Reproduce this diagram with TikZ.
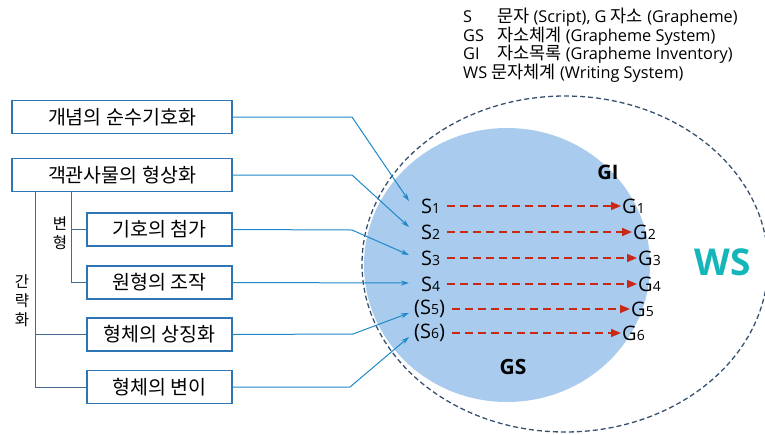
\documentclass[tikz,border=0pt]{standalone}
\usepackage{fontspec}
\setmainfont{Open Sans}
\newfontfamily\kr{Noto Sans CJK KR}
\usetikzlibrary{arrows.meta}
\definecolor{boxblue}{RGB}{46,117,182}
\definecolor{connblue}{RGB}{30,136,200}
\definecolor{brkblue}{RGB}{70,105,145}
\definecolor{fillblue}{RGB}{168,203,238}
\definecolor{dashslate}{RGB}{55,80,110}
\definecolor{arrred}{RGB}{200,40,20}
\definecolor{teal}{RGB}{20,182,186}
\tikzset{
  box/.style={draw=boxblue, line width=1.6pt, fill=white, minimum height=33pt, inner sep=0pt, font=\kr\fontsize{19.5}{21}\selectfont},
  wide/.style={box, minimum width=220pt},
  narrow/.style={box, minimum width=145pt},
  conn/.style={draw=connblue, line width=1pt, -{Stealth[length=8pt,width=5pt]}},
  brk/.style={draw=brkblue, line width=1pt},
  slab/.style={anchor=west, inner sep=0pt, font=\fontsize{20}{22}\selectfont},
  glab/.style={anchor=west, inner sep=0pt, font=\fontsize{20}{22}\selectfont},
  redarr/.style={draw=arrred, line width=1.6pt, dash pattern=on 8pt off 5pt, -{Triangle[length=10pt,width=8pt]}},
  legend/.style={anchor=west, inner sep=0pt, font=\fontsize{16.3}{17}\selectfont},
  vlab/.style={inner sep=0pt, align=center, font=\kr\fontsize{15.5}{19}\selectfont}
}
\newcommand{\sub}[1]{{\fontsize{14}{14}\selectfont #1}}
\newcommand{\krl}[1]{{\kr\fontsize{17.5}{17}\selectfont #1}}
\begin{document}
\begin{tikzpicture}[x=1pt,y=-1pt]
\useasboundingbox (0,0) rectangle (765,434);
% ellipses
\fill[fillblue] (507,265) ellipse [x radius=143pt, y radius=137pt];
\draw[dashslate, line width=1.3pt, dash pattern=on 5pt off 3pt] (565,264) ellipse [x radius=203pt, y radius=168pt];
% legend
\node[legend] (l1) at (463,17) {\makebox[34pt][l]{S}\krl{문자} (Script), G \krl{자소} (Grapheme)};
\node[legend] (l2) at (463,36) {\makebox[34pt][l]{GS}\krl{자소체계} (Grapheme System)};
\node[legend] (l3) at (463,54) {\makebox[34pt][l]{GI}\krl{자소목록} (Grapheme Inventory)};
\node[legend] (l4) at (463,73) {WS \krl{문자체계} (Writing System)};
% boxes
\node[wide] (b1) at (122,117) {개념의 순수기호화};
\node[wide] (b2) at (122,175) {객관사물의 형상화};
\node[narrow] (b3) at (159.5,229.5) {기호의 첨가};
\node[narrow] (b4) at (159.5,282.5) {원형의 조작};
\node[narrow] (b5) at (159.5,334.5) {형체의 상징화};
\node[narrow] (b6) at (159.5,387) {형체의 변이};
% brackets
\coordinate (v1) at (71,0);
\coordinate (v2) at (35,0);
\draw[brk] (b2.south -| v1) |- (b4.west);
\draw[brk] (b3.west -| v1) -- (b3.west);
\draw[brk] (b2.south -| v2) |- (b6.west);
\draw[brk] (b5.west -| v2) -- (b5.west);
\node[vlab] (bh) at (60,233) {변\\형};
\node[vlab] (gl) at (22,301) {간\\략\\화};
% S and G labels
\node[slab] (s1) at (421,206) {S\sub{1}};
\node[slab] (s2) at (421,232) {S\sub{2}};
\node[slab] (s3) at (421,258) {S\sub{3}};
\node[slab] (s4) at (421,284) {S\sub{4}};
\node[slab] (s5) at (414,309) {(S\sub{5})};
\node[slab] (s6) at (414,333) {(S\sub{6})};
\node[glab] (g1) at (622,206) {G\sub{1}};
\node[glab] (g2) at (633,232) {G\sub{2}};
\node[glab] (g3) at (638,258) {G\sub{3}};
\node[glab] (g4) at (638,284) {G\sub{4}};
\node[glab] (g5) at (631,309) {G\sub{5}};
\node[glab] (g6) at (622,333) {G\sub{6}};
\foreach \i in {1,...,6}{
  \draw[redarr, shorten <=7pt, shorten >=1pt] (s\i.east) -- (g\i.west);
}
% titles
\node[inner sep=0pt, font=\fontsize{20}{22}\selectfont\bfseries] (gi) at (608,172) {GI};
\node[inner sep=0pt, font=\fontsize{21}{24}\selectfont\bfseries] (gs) at (513,367) {GS};
\node[inner sep=0pt, text=teal, font=\fontsize{37}{40}\selectfont\bfseries] (ws) at (723,262) {WS};
% connectors
\coordinate (k1) at (352,117);
\coordinate (k2) at (352,175);
\coordinate (k3) at (352,230);
\coordinate (k5) at (353,334);
\coordinate (k6) at (350,387);
\coordinate (p1) at (409,201);
\coordinate (p2) at (409,227);
\coordinate (p3) at (409,255);
\coordinate (p4) at (409,283);
\coordinate (p5) at (409,313);
\coordinate (p6) at (409,337);
\draw[conn] (b1.east) -- (k1) -- (p1);
\draw[conn] (b2.east) -- (k2) -- (p2);
\draw[conn] (b3.east) -- (k3) -- (p3);
\draw[conn] (b4.east) -- (p4);
\draw[conn] (b5.east) -- (k5) -- (p5);
\draw[conn] (b6.east) -- (k6) -- (p6);
\end{tikzpicture}
\end{document}
